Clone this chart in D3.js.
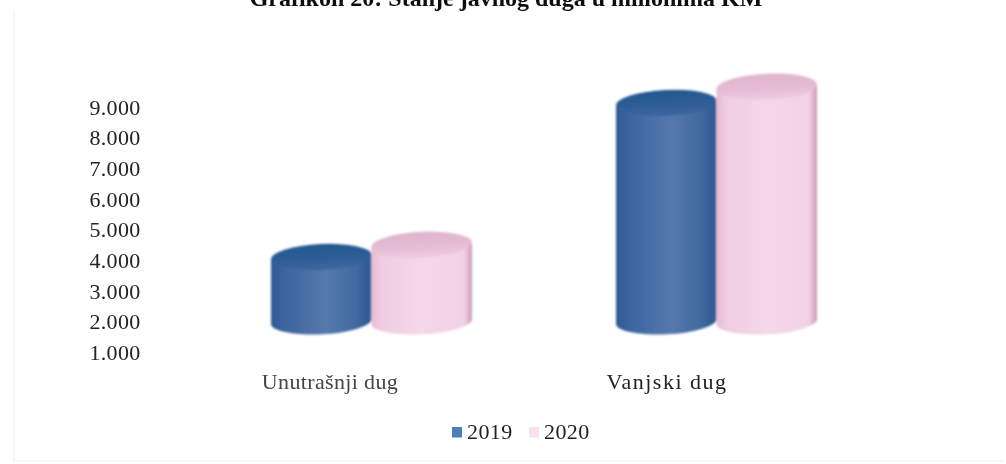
<!DOCTYPE html>
<html><head><meta charset="utf-8">
<script src="https://cdn.jsdelivr.net/npm/d3@7"></script>
<style>
html,body{margin:0;padding:0;background:#fff}
svg{display:block}
text{font-family:"Liberation Serif",serif;fill:#222}
</style></head><body><div id="c"></div>
<script>
const categories = ["Unutrašnji dug", "Vanjski dug"];
const seriesNames = ["2019", "2020"];
const values2019 = [4100, 9130];
const values2020 = [4500, 9660];
const tickValues = [1000, 2000, 3000, 4000, 5000, 6000, 7000, 8000, 9000];
const floorValue = 2000;
const titleText = "Grafikon 20: Stanje javnog duga u milionima KM";

const W = 1006, H = 464;
const svg = d3.select("#c").append("svg").attr("width", W).attr("height", H);
const defs = svg.append("defs");
function grad(id, stops, vertical){
  const g = defs.append("linearGradient").attr("id", id).attr("x1","0").attr("y1","0")
    .attr("x2",vertical?"0":"1").attr("y2",vertical?"1":"0");
  stops.forEach(([o,c]) => g.append("stop").attr("offset", o).attr("stop-color", c));
}
grad("g2019", [[0,"#2d5a94"],[0.12,"#3a649d"],[0.55,"#5679ad"],[0.85,"#41699f"],[1,"#2c588f"]]);
grad("g2020", [[0,"#e6bbd3"],[0.1,"#f0cce2"],[0.5,"#f5d8ea"],[0.92,"#f2d1e5"],[0.97,"#dcaec8"],[1,"#c899b5"]]);
grad("t2019", [[0,"#21598f"],[0.55,"#2f5c96"],[1,"#3f679f"]], true);
grad("t2020", [[0,"#dfb4ce"],[0.55,"#e5bcd5"],[1,"#efcbe1"]], true);
const blur = defs.append("filter").attr("id","soft").attr("x","-5%").attr("y","-5%").attr("width","110%").attr("height","110%");
blur.append("feGaussianBlur").attr("stdDeviation",1);
const blurT = defs.append("filter").attr("id","softT").attr("x","-5%").attr("y","-20%").attr("width","110%").attr("height","140%");
blurT.append("feGaussianBlur").attr("stdDeviation",0.4);

// faint frame of the scanned chart
svg.append("path").attr("d","M14,11V461H1004").attr("fill","none").attr("stroke","#f5f5f5").attr("stroke-width",1.5);

svg.append("text").attr("x",506).attr("y",6).attr("text-anchor","middle")
  .attr("font-size",24).attr("font-weight","bold").style("fill","#111").attr("filter","url(#softT)").text(titleText);

const y = d3.scaleLinear().domain([1000, 9000]).range([352, 107]);
const x0 = d3.scalePoint().domain(categories).range([371, 716]);
const x1 = d3.scaleBand().domain(seriesNames).range([-100, 101]).paddingInner(0);

const axis = d3.axisLeft(y).tickValues(tickValues).tickSize(0).tickPadding(0)
  .tickFormat(d => d3.format(",")(d).replace(",", "."));
const ag = svg.append("g").attr("transform","translate(140.5,0)").call(axis);
ag.select(".domain").remove();
ag.selectAll("text").attr("font-size",22).attr("dy","0.33em").attr("filter","url(#softT)")
  .style("letter-spacing","0.3px").style("font-family",'"Liberation Serif",serif');

const rows = seriesNames.flatMap((s,i) => categories.map((c,j) => ({s, c, v:(i?values2020:values2019)[j]})));
const ry = 13, dy = 2.5, rot = -2.8;
const cyl = svg.append("g").attr("filter","url(#soft)").selectAll("g").data(rows).join("g");
cyl.each(function(d){
  const g = d3.select(this);
  const l = x0(d.c) + x1(d.s), w = x1.bandwidth(), rx = w/2, cx = l + rx;
  const yt = y(d.v), yb = y(floorValue);
  g.append("path").attr("fill",`url(#g${d.s})`)
    .attr("d",`M${l},${yt+dy}V${yb+dy}A${rx},${ry} ${rot} 0 0 ${l+w},${yb-dy}V${yt-dy}Z`);
  g.append("ellipse").attr("cx",cx).attr("cy",yt).attr("rx",rx).attr("ry",ry)
    .attr("transform",`rotate(${rot},${cx},${yt})`).attr("fill",`url(#t${d.s})`);
});

const catCentre = [330, 667], catSpacing = [0.35, 1.5];
svg.append("g").selectAll("text").data(categories).join("text")
  .attr("x", (d,i) => catCentre[i]).attr("y",389)
  .attr("text-anchor","middle").attr("font-size",22).attr("filter","url(#softT)")
  .style("letter-spacing",(d,i)=>catSpacing[i]+"px")
  .style("fill",(d,i)=>i?"#222":"#444")
  .text(d=>d);

const color = d3.scaleOrdinal().domain(seriesNames).range(["#4f7fb8","#f8e0f0"]);
const lg = svg.append("g").selectAll("g").data(seriesNames).join("g")
  .attr("transform",(d,i)=>`translate(${452+i*77},0)`);
lg.append("rect").attr("y",427).attr("width",10).attr("height",10.5).attr("fill",d=>color(d));
lg.append("text").attr("x",15).attr("y",439).attr("font-size",22).style("letter-spacing","0.4px").attr("filter","url(#softT)").text(d=>d);
</script></body></html>
